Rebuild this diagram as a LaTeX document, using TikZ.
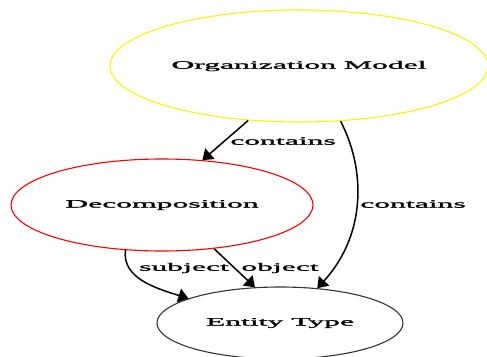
\documentclass[tikz,border=0pt]{standalone}
\usepackage{fontspec}
\setmainfont{Liberation Serif}
\newfontfamily\diagramfont{Liberation Serif}[FakeBold=1.2]
\usetikzlibrary{shapes.geometric,arrows.meta}
% wide lettering: the drawing is stretched horizontally
\newcommand\widetext[1]{\scalebox{2.8}[1]{#1}}
\tikzset{
  entity/.style={ellipse, draw, line width=1.1pt, inner sep=0pt,
    font=\diagramfont\fontsize{11.3}{13}\selectfont},
  rel/.style={line width=1.5pt, -{Triangle[length=10pt,width=14pt]}},
  rellabel/.style={inner sep=0pt, font=\diagramfont\fontsize{11.3}{13}\selectfont}
}
\begin{document}
\begin{tikzpicture}[x=1pt,y=-1pt]
  \useasboundingbox (0,0) rectangle (487,356);

  \node[entity, draw=yellow, minimum width=378pt, minimum height=112pt]
    (om) at (299,66) {\widetext{Organization Model}};
  \node[entity, draw=red, minimum width=302pt, minimum height=92pt]
    (dec) at (162,205) {\widetext{Decomposition}};
  \node[entity, draw=black!80, minimum width=246pt, minimum height=72pt]
    (et) at (280,323) {\widetext{Entity Type}};

  % relations
  \draw[rel] (om.227) -- (dec.48);
  \draw[rel] (om.307) .. controls (366,170) and (366,235) .. (et.43);
  \draw[rel] (dec.231) .. controls (122,278) and (155,288) .. (et.165);
  \draw[rel] (dec.320) -- (et.125);

  % relation names
  \node[rellabel] (l1) at (283,141) {\widetext{contains}};
  \node[rellabel] (l2) at (413,204) {\widetext{contains}};
  \node[rellabel] (l3) at (184,268) {\widetext{subject}};
  \node[rellabel] (l4) at (280,268) {\widetext{object}};
\end{tikzpicture}
\end{document}
